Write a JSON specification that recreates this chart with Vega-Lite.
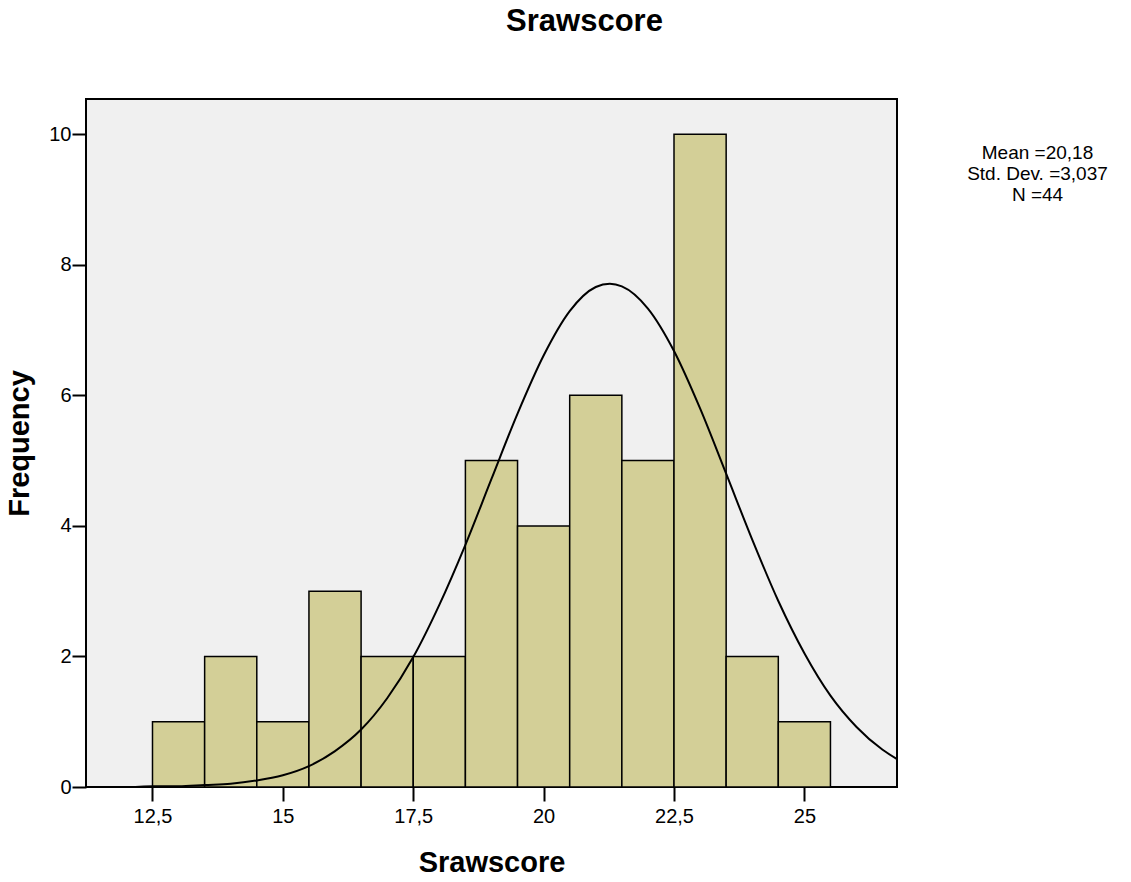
{
  "$schema": "https://vega.github.io/schema/vega-lite/v6.json",
  "autosize": "none",
  "width": 811,
  "height": 688,
  "padding": {"left": 86, "top": 99, "right": 234, "bottom": 95},
  "background": "white",
  "title": {
    "text": "Srawscore",
    "anchor": "middle",
    "frame": "group",
    "dx": 93,
    "offset": 37,
    "baseline": "alphabetic",
    "font": "Liberation Sans",
    "fontSize": 31,
    "fontWeight": "bold",
    "color": "black"
  },
  "config": {
    "view": {"fill": "#f0f0f0", "stroke": "black", "strokeWidth": 2},
    "axis": {
      "labelFont": "Liberation Sans",
      "labelFontSize": 20,
      "labelColor": "black",
      "titleFont": "Liberation Sans",
      "titleFontSize": 29,
      "titleFontWeight": "bold",
      "titleColor": "black",
      "tickColor": "black",
      "tickWidth": 2,
      "tickSize": 14,
      "domain": false,
      "grid": false
    }
  },
  "datasets": {
    "bins": [
      {"bin_start": 12.5, "bin_end": 13.5, "count": 1},
      {"bin_start": 13.5, "bin_end": 14.5, "count": 2},
      {"bin_start": 14.5, "bin_end": 15.5, "count": 1},
      {"bin_start": 15.5, "bin_end": 16.5, "count": 3},
      {"bin_start": 16.5, "bin_end": 17.5, "count": 2},
      {"bin_start": 17.5, "bin_end": 18.5, "count": 2},
      {"bin_start": 18.5, "bin_end": 19.5, "count": 5},
      {"bin_start": 19.5, "bin_end": 20.5, "count": 4},
      {"bin_start": 20.5, "bin_end": 21.5, "count": 6},
      {"bin_start": 21.5, "bin_end": 22.5, "count": 5},
      {"bin_start": 22.5, "bin_end": 23.5, "count": 10},
      {"bin_start": 23.5, "bin_end": 24.5, "count": 2},
      {"bin_start": 24.5, "bin_end": 25.5, "count": 1}
    ],
    "curve": [
      {"score": 11.23, "freq": 0.0},
      {"score": 12.0, "freq": 0.0},
      {"score": 12.5, "freq": 0.01},
      {"score": 13.0, "freq": 0.01},
      {"score": 13.5, "freq": 0.03},
      {"score": 14.0, "freq": 0.05},
      {"score": 14.5, "freq": 0.1},
      {"score": 15.0, "freq": 0.18},
      {"score": 15.5, "freq": 0.32},
      {"score": 16.0, "freq": 0.55},
      {"score": 16.5, "freq": 0.88},
      {"score": 17.0, "freq": 1.36},
      {"score": 17.5, "freq": 1.99},
      {"score": 18.0, "freq": 2.79},
      {"score": 18.5, "freq": 3.71},
      {"score": 19.0, "freq": 4.72},
      {"score": 19.5, "freq": 5.72},
      {"score": 20.0, "freq": 6.61},
      {"score": 20.5, "freq": 7.29},
      {"score": 21.0, "freq": 7.66},
      {"score": 21.27, "freq": 7.71},
      {"score": 21.5, "freq": 7.67},
      {"score": 22.0, "freq": 7.33},
      {"score": 22.5, "freq": 6.68},
      {"score": 23.0, "freq": 5.8},
      {"score": 23.5, "freq": 4.8},
      {"score": 24.0, "freq": 3.79},
      {"score": 24.5, "freq": 2.85},
      {"score": 25.0, "freq": 2.05},
      {"score": 25.5, "freq": 1.4},
      {"score": 26.0, "freq": 0.92},
      {"score": 26.5, "freq": 0.57},
      {"score": 26.77, "freq": 0.43}
    ],
    "stats": [
      {"summary": "Mean =20,18\nStd. Dev. =3,037\nN =44"}
    ]
  },
  "layer": [
    {
      "data": {"name": "bins"},
      "mark": {"type": "rect", "fill": "#d3cf97", "stroke": "black", "strokeWidth": 1.5},
      "encoding": {
        "x": {
          "field": "bin_start",
          "type": "quantitative",
          "scale": {"domain": [11.225, 26.776], "nice": false, "zero": false},
          "axis": {
            "title": "Srawscore",
            "values": [12.5, 15, 17.5, 20, 22.5, 25],
            "labelExpr": "replace(format(datum.value, '.1~f'), '.', ',')",
            "labelPadding": 5,
            "titlePadding": 22
          }
        },
        "x2": {"field": "bin_end"},
        "y": {
          "field": "count",
          "type": "quantitative",
          "scale": {"domain": [0, 10.54], "nice": false},
          "axis": {
            "title": "Frequency",
            "values": [0, 2, 4, 6, 8, 10],
            "labelExpr": "format(datum.value, 'd')",
            "labelPadding": 1,
            "titlePadding": 14
          }
        },
        "y2": {"datum": 0}
      }
    },
    {
      "data": {"name": "curve"},
      "mark": {"type": "line", "color": "black", "strokeWidth": 2, "interpolate": "monotone"},
      "encoding": {
        "x": {"field": "score", "type": "quantitative"},
        "y": {"field": "freq", "type": "quantitative"}
      }
    },
    {
      "data": {"name": "stats"},
      "mark": {
        "type": "text",
        "font": "Liberation Sans",
        "fontSize": 19,
        "color": "black",
        "align": "center",
        "baseline": "middle",
        "lineBreak": "\n",
        "lineHeight": 21
      },
      "encoding": {
        "x": {"datum": 29.47},
        "y": {"datum": 9.71},
        "text": {"field": "summary"}
      }
    }
  ]
}
